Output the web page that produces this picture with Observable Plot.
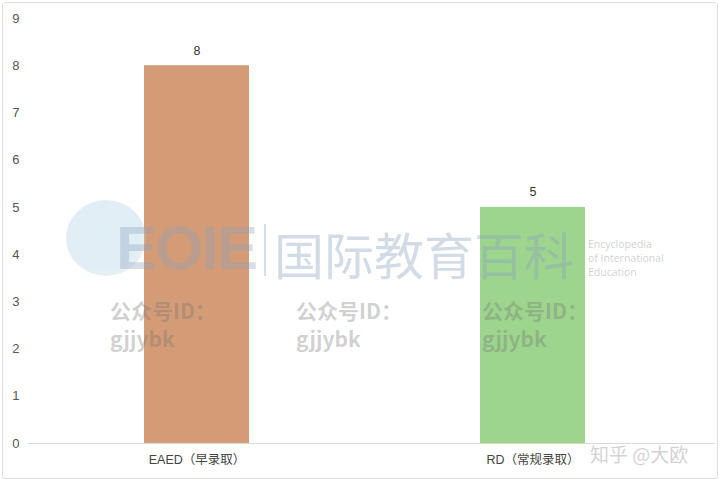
<!DOCTYPE html>
<html>
<head>
<meta charset="utf-8">
<script src="https://cdn.jsdelivr.net/npm/d3@7"></script>
<script src="https://cdn.jsdelivr.net/npm/@observablehq/plot@0.6"></script>
<style>
  html, body { margin: 0; padding: 0; background: #fff; }
  #wrap { position: relative; width: 720px; height: 482px; overflow: hidden;
          font-family: "Liberation Sans", "Noto Sans CJK SC", sans-serif; }
  #border { position: absolute; left: 2px; top: 2px; width: 714px; height: 475px;
            border: 1px solid #dedede; border-radius: 3px; pointer-events: none; }
  .wm { position: absolute; pointer-events: none; white-space: nowrap; }
  .id { font-family: "Noto Sans CJK SC", sans-serif; font-weight: 700; font-size: 21px;
        line-height: 28px; color: rgba(110,110,110,0.33); }
  .logo { font-family: "Liberation Sans", sans-serif; font-weight: 700; font-size: 62px;
          color: rgba(140,160,190,0.35); letter-spacing: -2px; }
  .cn { font-family: "Noto Sans CJK SC", sans-serif; font-size: 50px;
        color: rgba(140,160,190,0.38); }
  .en { font-family: "Open Sans", sans-serif; font-size: 10.5px; line-height: 14px;
        color: rgba(150,150,150,0.45); }
  .zh { font-family: "Noto Sans CJK SC", sans-serif; font-size: 19px;
        color: rgba(180,180,180,0.6); }
  .circle { width: 80px; height: 76px; border-radius: 50%;
            background: radial-gradient(circle at 45% 40%, rgba(200,225,240,0.55), rgba(170,205,225,0.35) 60%, rgba(215,230,200,0.3)); }
  .sep { width: 2px; height: 52px; background: rgba(140,160,190,0.35); }
</style>
</head>
<body>
<div id="wrap">
  <div id="chart"></div>
  <div id="border"></div>
</div>
<script>
const categories = ["EAED（早录取）", "RD（常规录取）"];
const values = [8, 5];
const colors = ["#D39C77", "#9DD48E"];
const yTicks = [0, 1, 2, 3, 4, 5, 6, 7, 8, 9];

const data = categories.map((c, i) => ({category: c, value: values[i], color: colors[i]}));

const chart = Plot.plot({
  width: 720,
  height: 482,
  marginLeft: 28,
  marginRight: 19,
  marginTop: 18,
  marginBottom: 39,
  style: {fontFamily: '"Liberation Sans", "Noto Sans CJK SC", sans-serif', background: "transparent"},
  x: {domain: categories, paddingInner: 0.688, paddingOuter: 0.344, label: null},
  y: {domain: [0, 9], label: null},
  marks: [
    Plot.barY(data, {x: "category", y: "value", fill: "color"}),
    Plot.ruleY([0], {stroke: "#d8d8d8", strokeWidth: 1, insetRight: -14}),
    Plot.text(data, {x: "category", y: "value", text: d => String(d.value), dy: -15,
      fill: "#333", fontSize: 12.5}),
    Plot.axisY(yTicks, {tickSize: 0, tickPadding: 9, fontSize: 13, color: "#555", label: null}),
    Plot.axisX({tickSize: 0, tickPadding: 12, fontSize: 12.5, color: "#444", label: null})
  ]
});
document.getElementById("chart").appendChild(chart);

// watermark overlays
const wrap = document.getElementById("wrap");
function wm(cls, html, left, top) {
  const d = document.createElement("div");
  d.className = "wm " + cls;
  d.innerHTML = html;
  d.style.left = left + "px";
  d.style.top = top + "px";
  wrap.appendChild(d);
}
wm("circle", "", 66, 200);
wm("logo", "EOIE", 116, 212);
wm("sep", "", 264, 224);
wm("cn", "国际教育百科", 274, 217);
wm("en", "Encyclopedia<br>of International<br>Education", 588, 237);
wm("id", "公众号ID：<br>gjjybk", 110, 296);
wm("id", "公众号ID：<br>gjjybk", 296, 296);
wm("id", "公众号ID：<br>gjjybk", 482, 296);
wm("zh", "知乎 @大欧", 590, 440);
</script>
</body>
</html>
